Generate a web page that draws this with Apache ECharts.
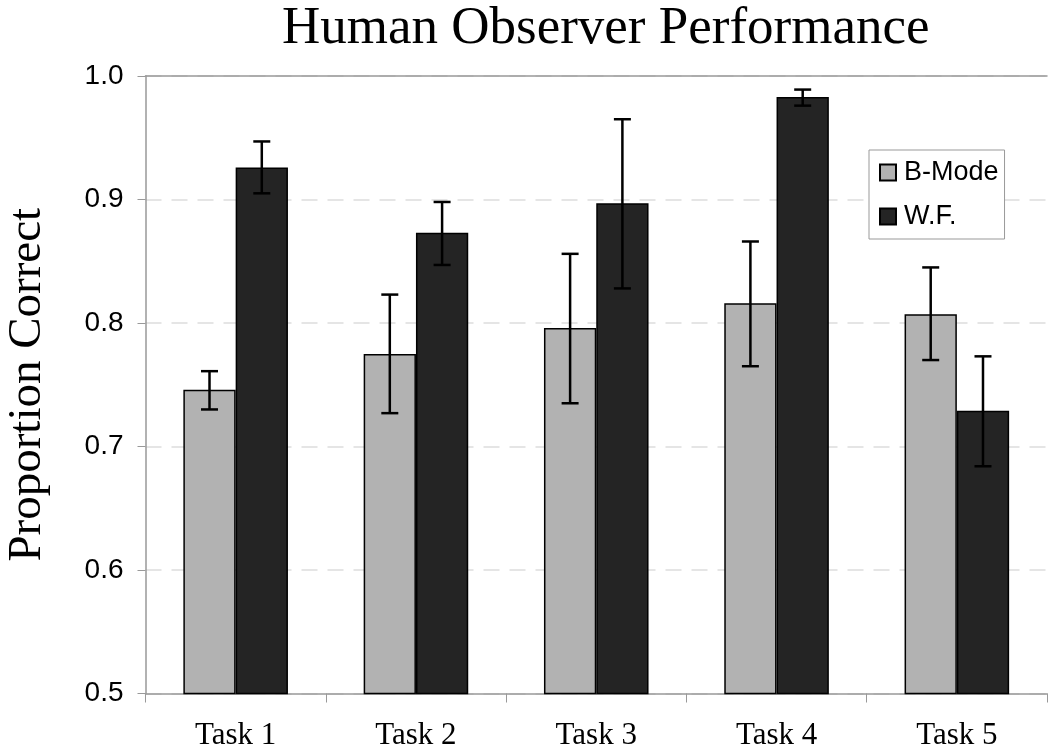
<!DOCTYPE html>
<html>
<head>
<meta charset="utf-8">
<script src="https://cdn.jsdelivr.net/npm/echarts@6/dist/echarts.min.js"></script>
<style>html,body{margin:0;padding:0;background:#fff}#c{width:1050px;height:754px}</style>
</head>
<body>
<div id="c"></div>
<script>
var categories = ['Task 1', 'Task 2', 'Task 3', 'Task 4', 'Task 5'];
var seriesNames = ['B-Mode', 'W.F.'];
var bMode = [0.746, 0.775, 0.796, 0.816, 0.807];
var bModeLow = [0.730, 0.727, 0.735, 0.765, 0.770];
var bModeHigh = [0.761, 0.823, 0.856, 0.866, 0.845];
var wf = [0.926, 0.873, 0.897, 0.983, 0.729];
var wfLow = [0.905, 0.847, 0.828, 0.976, 0.684];
var wfHigh = [0.947, 0.898, 0.965, 0.989, 0.773];
var yTicks = [0.5, 0.6, 0.7, 0.8, 0.9, 1.0];

var CAT_GAP = 0.42;

function errData(low, high) {
  return categories.map(function (c, i) { return [i, low[i], high[i]]; });
}
function errRender(sign) {
  return function (params, api) {
    var idx = api.value(0);
    var band = api.size([1, 0])[0];
    var barW = band * (1 - CAT_GAP) / 2;
    var lo = api.coord([idx, api.value(1)]);
    var hi = api.coord([idx, api.value(2)]);
    var x = lo[0] + sign * barW / 2;
    var cap = 8.5;
    var st = { stroke: '#000', lineWidth: 2.5 };
    return {
      type: 'group',
      children: [
        { type: 'line', shape: { x1: x, y1: hi[1], x2: x, y2: lo[1] }, style: st },
        { type: 'line', shape: { x1: x - cap, y1: hi[1], x2: x + cap, y2: hi[1] }, style: st },
        { type: 'line', shape: { x1: x - cap, y1: lo[1], x2: x + cap, y2: lo[1] }, style: st }
      ]
    };
  };
}

var chart = echarts.init(document.getElementById('c'), null, { renderer: 'canvas' });
chart.setOption({
  backgroundColor: '#fff',
  animation: false,
  title: {
    text: 'Human Observer Performance',
    left: 282, top: 3, padding: 0,
    textStyle: { fontFamily: 'Liberation Serif', fontSize: 53, fontWeight: 'normal', color: '#000' }
  },
  legend: {
    orient: 'vertical',
    left: 869, top: 150,
    padding: [9, 6, 9, 10],
    backgroundColor: '#fff',
    borderColor: '#999', borderWidth: 1, borderRadius: 0,
    itemWidth: 16, itemHeight: 16, itemGap: 17,
    icon: 'rect',
    data: seriesNames,
    textStyle: { fontFamily: 'Liberation Sans', fontSize: 27, color: '#000', lineHeight: 27, padding: [0, 0, 0, 3] }
  },
  grid: { left: 145.5, right: 3, top: 76, bottom: 60.5, containLabel: false, outerBoundsMode: 'none' },
  xAxis: [{
    type: 'category',
    data: categories,
    boundaryGap: true,
    axisLine: { show: true, lineStyle: { color: '#999', width: 1.5 } },
    axisTick: { show: true, length: 9, lineStyle: { color: '#999', width: 1 } },
    axisLabel: { margin: 27, fontFamily: 'Liberation Serif', fontSize: 31, color: '#000' },
    splitLine: { show: false }
  }, {
    type: 'category',
    data: categories,
    position: 'top',
    axisLine: { show: true, lineStyle: { color: '#999', width: 1.5 } },
    axisTick: { show: false },
    axisLabel: { show: false },
    splitLine: { show: false }
  }],
  yAxis: {
    type: 'value',
    min: 0.5, max: 1.0, interval: 0.1,
    name: 'Proportion Correct',
    nameLocation: 'middle',
    nameRotate: 90,
    nameGap: 94,
    nameTextStyle: { fontFamily: 'Liberation Serif', fontSize: 47, color: '#000' },
    axisLine: { show: true, lineStyle: { color: '#999', width: 1.5 } },
    axisTick: { show: true, inside: false, length: 8, lineStyle: { color: '#999' } },
    axisLabel: {
      margin: 22, fontFamily: 'Liberation Sans', fontSize: 28, color: '#000',
      formatter: function (v) { return v.toFixed(1); }
    },
    splitLine: { show: true, lineStyle: { color: '#ddd', type: [16, 10], width: 1.5 } }
  },
  series: [
    {
      name: seriesNames[0], type: 'bar', data: bMode,
      barGap: '0%', barCategoryGap: (CAT_GAP * 100) + '%',
      itemStyle: { color: '#b2b2b2', borderColor: '#000', borderWidth: 1.5 }
    },
    {
      name: seriesNames[1], type: 'bar', data: wf,
      barGap: '0%', barCategoryGap: (CAT_GAP * 100) + '%',
      itemStyle: { color: '#242424', borderColor: '#000', borderWidth: 1.5 }
    },
    {
      type: 'custom', name: 'errB', renderItem: errRender(-1),
      data: errData(bModeLow, bModeHigh), encode: { x: 0, y: [1, 2] }, z: 5, silent: true
    },
    {
      type: 'custom', name: 'errW', renderItem: errRender(1),
      data: errData(wfLow, wfHigh), encode: { x: 0, y: [1, 2] }, z: 5, silent: true
    }
  ]
});
</script>
</body>
</html>
